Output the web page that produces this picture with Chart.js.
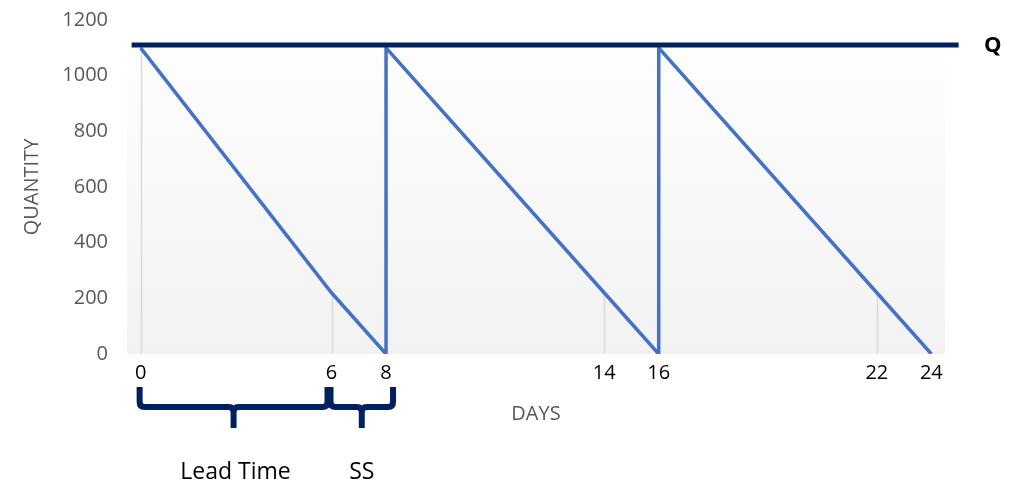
<!DOCTYPE html>
<html><head><meta charset="utf-8">
<script src="https://cdn.jsdelivr.net/npm/chart.js@4.4.0/dist/chart.umd.min.js"></script>
<style>html,body{margin:0;padding:0;background:#fff}canvas{display:block}</style>
</head><body>
<canvas id="c" width="1020" height="485"></canvas>
<script>
// Category slots of the original (Excel) axis; only some carry a day label
const categories = ['0','','','','','','','6','','8','','','','','','','','14','','16','','','','','','','','22','','24'];
// Inventory sawtooth: category slot index and quantity
const stockX = [0, 7, 9, 9, 17, 19, 19, 27, 29];
const stockY = [1100, 220, 0, 1100, 220, 0, 1100, 220, 0];
// Order quantity line
const qLevel = 1110;
const qFrom = -0.33, qTo = 30;
// Y axis
const yMin = 0, yMax = 1200, yStep = 200;
// Braces under the x axis (slot ranges)
const braceLabels = ['Lead Time', 'SS'];
const braceFrom = [0, 7];
const braceTo = [7, 9];

const FONT = "'Open Sans', 'Noto Sans', sans-serif";

const stockData = stockX.map((x, i) => ({x, y: stockY[i]}));
const qData = [{x: qFrom, y: qLevel}, {x: qTo, y: qLevel}];

const bgPlugin = {
  id: 'bg',
  beforeDraw(chart) {
    const {ctx, chartArea: a} = chart;
    const g = ctx.createLinearGradient(0, a.top, 0, a.bottom);
    g.addColorStop(0, '#ffffff');
    g.addColorStop(1, '#f2f2f2');
    ctx.save();
    ctx.fillStyle = g;
    ctx.fillRect(a.left, a.top, a.right - a.left, a.bottom - a.top);
    ctx.restore();
  },
  beforeDatasetsDraw(chart) {
    // drop lines from each inventory point to the axis
    const {ctx, scales: {x, y}} = chart;
    ctx.save();
    ctx.strokeStyle = '#d9d9d9';
    ctx.lineWidth = 1.5;
    stockData.forEach(p => {
      const px = Math.round(x.getPixelForValue(p.x)) + 0.5;
      ctx.beginPath();
      ctx.moveTo(px, y.getPixelForValue(p.y));
      ctx.lineTo(px, y.getPixelForValue(0));
      ctx.stroke();
    });
    ctx.restore();
  },
  afterDraw(chart) {
    const {ctx, scales: {x, y}} = chart;
    ctx.save();
    // Q label
    ctx.fillStyle = '#000';
    ctx.font = "bold 22px " + FONT;
    ctx.textAlign = 'center';
    ctx.textBaseline = 'middle';
    ctx.fillText('Q', x.getPixelForValue(qTo) + 34, y.getPixelForValue(qLevel) + 1);
    // braces
    const yTop = 387, yBar = 407, yTip = 428;
    ctx.strokeStyle = '#002060';
    ctx.lineWidth = 6;
    ctx.lineJoin = 'round';
    ctx.lineCap = 'butt';
    braceLabels.forEach((lab, i) => {
      const x1 = x.getPixelForValue(braceFrom[i]) - 1;
      const x2 = x.getPixelForValue(braceTo[i]) + (i === 0 ? -4 : 7);
      const xm = (x1 + x2) / 2;
      const r = 5;
      ctx.beginPath();
      ctx.moveTo(x1, yTop);
      ctx.lineTo(x1, yBar - r);
      ctx.quadraticCurveTo(x1, yBar, x1 + r, yBar);
      ctx.lineTo(xm - r, yBar);
      ctx.quadraticCurveTo(xm, yBar, xm, yBar + r);
      ctx.lineTo(xm, yTip);
      ctx.moveTo(xm, yBar + r);
      ctx.quadraticCurveTo(xm, yBar, xm + r, yBar);
      ctx.lineTo(x2 - r, yBar);
      ctx.quadraticCurveTo(x2, yBar, x2, yBar - r);
      ctx.lineTo(x2, yTop);
      ctx.stroke();
      ctx.fillStyle = '#000';
      ctx.font = "23px " + FONT;
      ctx.textAlign = 'center';
      ctx.textBaseline = 'middle';
      ctx.fillText(lab, xm + (i === 0 ? 2 : 0), 472);
    });
    ctx.restore();
  }
};

new Chart(document.getElementById('c'), {
  type: 'line',
  data: {
    datasets: [
      {
        label: 'Q',
        data: qData,
        borderColor: '#002060',
        borderWidth: 5,
        pointRadius: 0,
        tension: 0,
        clip: false,
        order: 0
      },
      {
        label: 'Inventory',
        data: stockData,
        borderColor: '#4472C4',
        borderWidth: 3.5,
        pointRadius: 0,
        tension: 0,
        borderJoinStyle: 'miter',
        order: 1
      }
    ]
  },
  options: {
    responsive: false,
    animation: false,
    layout: {padding: {top: 20, right: 75, bottom: 0, left: 0}},
    plugins: {legend: {display: false}, tooltip: {enabled: false}},
    scales: {
      x: {
        type: 'linear',
        min: -0.5,
        max: categories.length - 0.5,
        grid: {display: false, drawTicks: false},
        border: {display: false},
        afterBuildTicks(scale) {
          scale.ticks = categories.map((c, i) => ({value: i})).filter(t => categories[t.value] !== '');
        },
        afterFit(scale) { scale.height = 131; scale.paddingLeft = 0; scale.paddingRight = 0; },
        ticks: {
          autoSkip: false,
          maxRotation: 0,
          padding: 7,
          color: '#000',
          font: {family: FONT, size: 20},
          callback: v => categories[v]
        },
        title: {
          display: true,
          text: 'DAYS',
          color: '#595959',
          font: {family: FONT, size: 20},
          padding: {top: 0, bottom: 59}
        }
      },
      y: {
        min: yMin,
        max: yMax,
        grid: {display: false, drawTicks: false},
        border: {display: false},
        afterFit(scale) { scale.width = 127; scale.paddingTop = 0; scale.paddingBottom = 0; },
        ticks: {
          stepSize: yStep,
          padding: 19,
          color: '#595959',
          font: {family: FONT, size: 20},
          callback: v => String(v)
        },
        title: {
          display: true,
          text: 'QUANTITY',
          color: '#595959',
          font: {family: FONT, size: 20},
          padding: {top: 20, bottom: 0}
        }
      }
    }
  },
  plugins: [bgPlugin]
});
</script>
</body></html>
